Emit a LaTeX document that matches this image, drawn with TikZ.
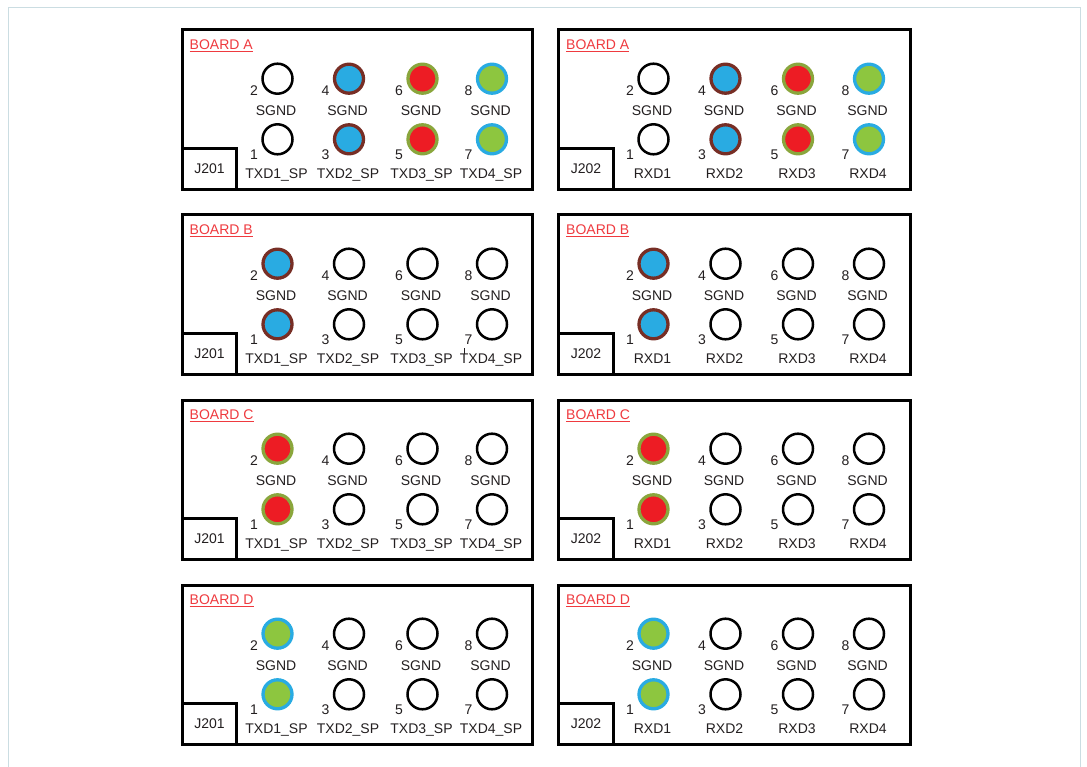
\documentclass[tikz,border=0pt]{standalone}
\usepackage{fontspec}
\setmainfont{Liberation Sans}
\definecolor{framec}{HTML}{CBDDE2}
\definecolor{pinblue}{HTML}{29ABE2}
\definecolor{pinbrown}{HTML}{772E25}
\definecolor{pinred}{HTML}{ED1C24}
\definecolor{pinolive}{HTML}{8AA63C}
\definecolor{pingreen}{HTML}{8DC63F}
\definecolor{boardred}{HTML}{EF3A3F}
\definecolor{inkc}{HTML}{231F20}
\tikzset{
  boardbox/.style={draw=black, line width=3pt},
  pinbase/.style={circle, inner sep=0pt},
  pinblk/.style={pinbase, draw=black, line width=2.5pt, minimum size=30pt},
  pinblu/.style={pinbase, draw=pinbrown, fill=pinblue, line width=3.3pt, minimum size=29pt},
  pinrd/.style={pinbase, draw=pinolive, fill=pinred, line width=3.3pt, minimum size=29pt},
  pingrn/.style={pinbase, draw=pinblue, fill=pingreen, line width=3.3pt, minimum size=29pt},
  txt/.style={inner sep=0pt, anchor=base, font=\fontsize{14}{16}\selectfont, text=inkc},
  brdlbl/.style={inner sep=0pt, anchor=base west, font=\fontsize{14}{16}\selectfont, text=boardred},
  ulined/.style={draw=boardred, line width=0.9pt},
}
\newcommand{\pinpair}[7]{%
  \node[#4] (#1t) at (#2,#3+48.7) {};
  \node[txt] (#1tn) at (#2-23.5,#3+65.5) {#5};
  \node[txt] (#1tl) at (#2-1.5,#3+85.8) {SGND};
  \node[#4] (#1b) at (#2,#3+109.3) {};
  \node[txt] (#1bn) at (#2-23.5,#3+129.3) {#6};
  \node[txt] (#1bl) at (#2-1,#3+148.8) {#7};
}
\newcommand{\boardL}[7]{%
  \draw[boardbox] (182.5,#2) rectangle (532.5,#2+159.5);
  \draw[boardbox] (182.5,#2+118.5) rectangle (236.5,#2+159.5);
  \node[txt] (#1J) at (209.5,#2+143.5) {J201};
  \node[brdlbl] (#1N) at (189.5,#2+19.7) {BOARD #3};
  \draw[ulined] ([yshift=-1.6pt]#1N.base west) -- ([yshift=-1.6pt]#1N.base east);
  \pinpair{#1c1}{277.5}{#2}{#4}{2}{1}{TXD1\_SP}
  \pinpair{#1c2}{349}{#2}{#5}{4}{3}{TXD2\_SP}
  \pinpair{#1c3}{422.5}{#2}{#6}{6}{5}{TXD3\_SP}
  \pinpair{#1c4}{492}{#2}{#7}{8}{7}{TXD4\_SP}
}
\newcommand{\boardR}[7]{%
  \draw[boardbox] (558.5,#2) rectangle (910,#2+159.5);
  \draw[boardbox] (558.5,#2+118.5) rectangle (613.3,#2+159.5);
  \node[txt] (#1J) at (586,#2+143.5) {J202};
  \node[brdlbl] (#1N) at (566,#2+19.7) {BOARD #3};
  \draw[ulined] ([yshift=-1.6pt]#1N.base west) -- ([yshift=-1.6pt]#1N.base east);
  \pinpair{#1c1}{653.5}{#2}{#4}{2}{1}{RXD1}
  \pinpair{#1c2}{725.5}{#2}{#5}{4}{3}{RXD2}
  \pinpair{#1c3}{798}{#2}{#6}{6}{5}{RXD3}
  \pinpair{#1c4}{869}{#2}{#7}{8}{7}{RXD4}
}
\begin{document}
\begin{tikzpicture}[x=1pt, y=-1pt]
  \useasboundingbox (0,0) rectangle (1087,767);
  \fill[white] (0,0) rectangle (1087,767);
  \draw[framec, line width=1.4pt] (8.5,767) -- (8.5,7.5) -- (1080.5,7.5) -- (1080.5,767);
  \boardL{AL}{30}{A}{pinblk}{pinblu}{pinrd}{pingrn}
  \boardR{AR}{30}{A}{pinblk}{pinblu}{pinrd}{pingrn}
  \boardL{BL}{215}{B}{pinblu}{pinblk}{pinblk}{pinblk}
  \boardR{BR}{215}{B}{pinblu}{pinblk}{pinblk}{pinblk}
  \boardL{CL}{400}{C}{pinrd}{pinblk}{pinblk}{pinblk}
  \boardR{CR}{400}{C}{pinrd}{pinblk}{pinblk}{pinblk}
  \boardL{DL}{585}{D}{pingrn}{pinblk}{pinblk}{pinblk}
  \boardR{DR}{585}{D}{pingrn}{pinblk}{pinblk}{pinblk}
  % small stray tick on the T of TXD4_SP (board B)
  \draw[inkc, line width=0.8pt] ([xshift=4.3pt,yshift=9.5pt]BLc4bl.base west) -- ([xshift=4.3pt,yshift=16pt]BLc4bl.base west);
\end{tikzpicture}
\end{document}
